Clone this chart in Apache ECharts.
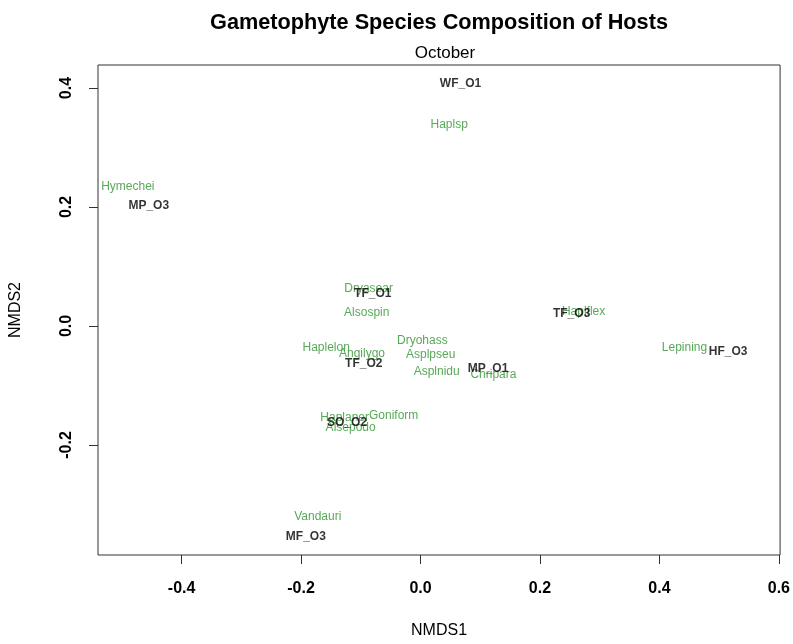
<!DOCTYPE html>
<html>
<head>
<meta charset="utf-8">
<script src="https://cdn.jsdelivr.net/npm/echarts@6/dist/echarts.min.js"></script>
<style>html,body{margin:0;padding:0;background:#fff}#c{width:793px;height:644px}</style>
</head>
<body>
<div id="c"></div>
<script>
const siteNames = ["WF_O1","MP_O3","TF_O1","TF_O3","TF_O2","MP_O1","HF_O3","SO_O2","MF_O3"];
const siteX = [0.067,-0.455,-0.080,0.253,-0.095,0.113,0.515,-0.123,-0.192];
const siteY = [0.407,0.203,0.054,0.020,-0.064,-0.072,-0.044,-0.163,-0.355];

const speciesNames = ["Haplsp","Hymechei","Dryasear","Alsospin","Haplelon","Angilygo","Dryohass","Asplpseu","Asplnidu","Chripara","Haplflex","Lepining","Haplaner","Goniform","Alsepodo","Vandauri"];
const speciesX = [0.048,-0.490,-0.087,-0.090,-0.158,-0.098,0.003,0.017,0.027,0.122,0.273,0.442,-0.127,-0.045,-0.117,-0.172];
const speciesY = [0.338,0.234,0.062,0.022,-0.037,-0.047,-0.025,-0.049,-0.077,-0.082,0.024,-0.037,-0.155,-0.151,-0.171,-0.321];

const xTicks = [-0.4,-0.2,0.0,0.2,0.4,0.6];
const yTicks = [-0.2,0.0,0.2,0.4];

const fmt = v => v.toFixed(1);

const chart = echarts.init(document.getElementById('c'));
chart.setOption({
  animation: false,
  backgroundColor: '#fff',
  title: [
    {text: 'Gametophyte Species Composition of Hosts', left: 434, top: 7, textAlign: 'center',
     textStyle: {fontFamily: 'Liberation Sans', fontWeight: 'bold', fontSize: 21.7, color: '#000'}},
    {text: 'October', left: 440, top: 40, textAlign: 'center',
     textStyle: {fontFamily: 'Liberation Sans', fontWeight: 'normal', fontSize: 17, color: '#000'}}
  ],
  grid: {left: 96, right: 12, top: 65, bottom: 89, show: true, borderColor: '#333', borderWidth: 1, backgroundColor: 'transparent'},
  xAxis: {
    type: 'value', min: -0.54, max: 0.602,
    splitLine: {show: false},
    axisLine: {show: false, onZero: false},
    axisTick: {show: true, length: 9, customValues: xTicks, lineStyle: {color: '#333'}},
    axisLabel: {customValues: xTicks, formatter: fmt, margin: 26, fontFamily: 'Liberation Sans', fontWeight: 'bold', fontSize: 16, color: '#000'},
    name: 'NMDS1', nameLocation: 'middle', nameGap: 68,
    nameTextStyle: {fontFamily: 'Liberation Sans', fontSize: 16, color: '#000'}
  },
  yAxis: {
    type: 'value', min: -0.385, max: 0.4387,
    splitLine: {show: false},
    axisLine: {show: false, onZero: false},
    axisTick: {show: true, length: 9, customValues: yTicks, lineStyle: {color: '#333'}},
    axisLabel: {customValues: yTicks, formatter: fmt, rotate: 90, margin: 23, fontFamily: 'Liberation Sans', fontWeight: 'bold', fontSize: 16, color: '#000'},
    name: 'NMDS2', nameLocation: 'middle', nameGap: 74, nameRotate: 90,
    nameTextStyle: {fontFamily: 'Liberation Sans', fontSize: 16, color: '#000'}
  },
  series: [
    {
      type: 'scatter', symbolSize: 0,
      data: speciesNames.map((n,i) => ({name: n, value: [speciesX[i], speciesY[i]]})),
      label: {show: true, position: 'inside', formatter: p => p.name, color: '#2e922e',
              fontFamily: 'Liberation Sans', fontSize: 12}
    },
    {
      type: 'scatter', symbolSize: 0,
      data: siteNames.map((n,i) => ({name: n, value: [siteX[i], siteY[i]]})),
      label: {show: true, position: 'inside', formatter: p => p.name, color: '#000',
              fontFamily: 'Liberation Sans', fontWeight: 'bold', fontSize: 12}
    }
  ]
});
</script>
</body>
</html>
